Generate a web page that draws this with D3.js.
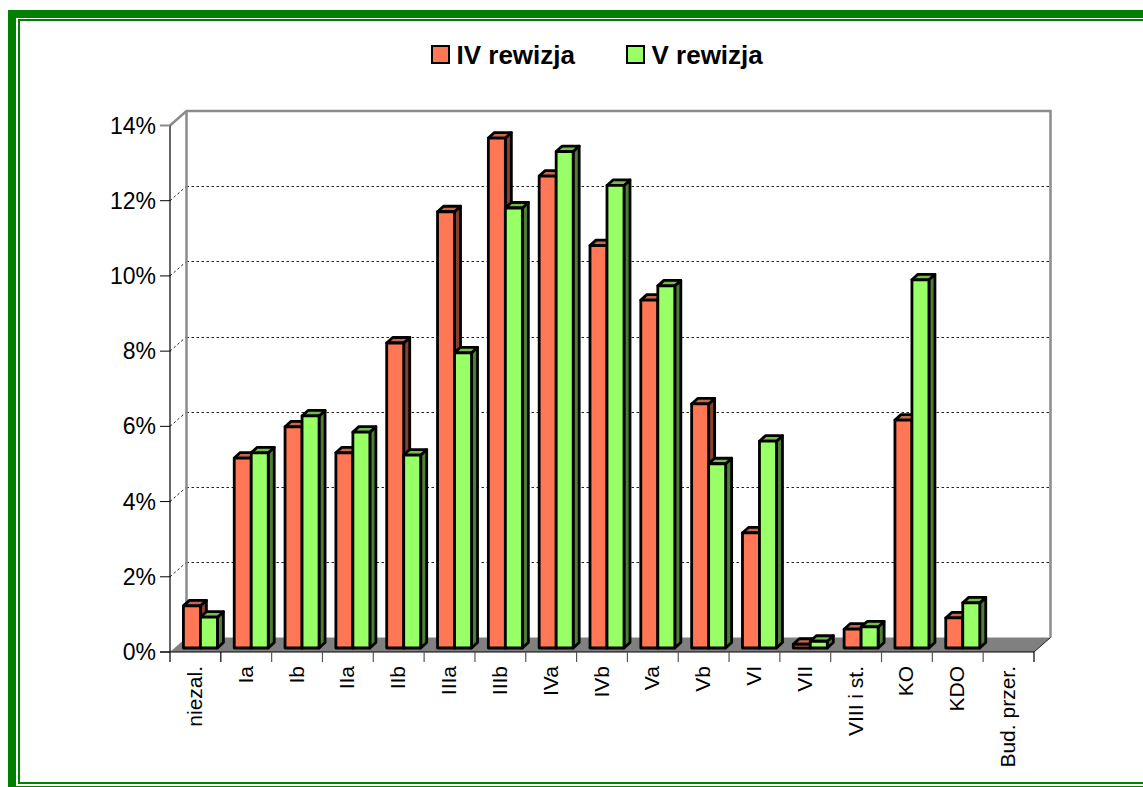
<!DOCTYPE html>
<html><head><meta charset="utf-8">
<script src="https://cdnjs.cloudflare.com/ajax/libs/d3/7.8.5/d3.min.js"></script>
<style>html,body{margin:0;padding:0;background:#fff;overflow:hidden}svg{display:block}text{font-family:"Liberation Sans",Arial,sans-serif;fill:#000}</style>
</head><body><svg id="c" width="1143" height="787"></svg>
<script>
const categories=["niezal.","Ia","Ib","IIa","IIb","IIIa","IIIb","IVa","IVb","Va","Vb","VI","VII","VIII i st.","KO","KDO","Bud. przer."];
const seriesNames=["IV rewizja","V rewizja"];
const rewizjaIV=[1.12,5.05,5.88,5.19,8.11,11.6,13.56,12.55,10.7,9.25,6.49,3.06,0.1,0.5,6.06,0.8,0];
const rewizjaV=[0.82,5.19,6.17,5.74,5.13,7.85,11.7,13.2,12.3,9.63,4.9,5.5,0.18,0.56,9.79,1.2,0];
const yTicks=[0,2,4,6,8,10,12,14];
const colors=[{f:"#ff7755",t:"#c4694d",s:"#87402c"},{f:"#99ff66",t:"#74bb50",s:"#4f7f35"}];

const svg=d3.select("#c");
// frame
svg.append("rect").attr("x",12).attr("y",14).attr("width",1140).attr("height",790).attr("fill","none").attr("stroke","#008000").attr("stroke-width",8);
svg.append("rect").attr("x",19).attr("y",20).attr("width",1140).attr("height",763).attr("fill","none").attr("stroke","#008000").attr("stroke-width",2);
svg.append("rect").attr("x",16).attr("y",786).attr("width",1127).attr("height",1).attr("fill","#008000");

const x=d3.scaleBand().domain(categories).range([170,1034]);
const y=d3.scaleLinear().domain([0,14]).range([652,125.5]);
const dx=16.5,dy=-14.5;
const g=svg.append("g");

// floor
g.append("path").attr("d",d3.line()([[170,652],[170+dx,652+dy],[1034+dx,652+dy],[1034,652]])+"Z").attr("fill","#808080");
// gridlines
const gy=yTicks.filter(d=>d>0&&d<14);
g.selectAll(".gb").data(gy).join("line").attr("x1",170+dx).attr("x2",1034+dx).attr("y1",d=>Math.round(y(d)+dy)+0.5).attr("y2",d=>Math.round(y(d)+dy)+0.5).attr("stroke","#222").attr("stroke-width",1).attr("stroke-dasharray","2.5 2.5");
g.selectAll(".gs").data(gy).join("line").attr("x1",170).attr("x2",170+dx).attr("y1",d=>y(d)).attr("y2",d=>y(d)+dy).attr("stroke","#222").attr("stroke-width",1).attr("stroke-dasharray","2.5 2.5");
// back wall edges
const wall="#8c8c8c";
g.append("path").attr("d",d3.line()([[170,y(14)],[170+dx,y(14)+dy],[1034+dx,y(14)+dy],[1034+dx,652+dy]])).attr("fill","none").attr("stroke",wall).attr("stroke-width",2.5);
g.append("line").attr("x1",170+dx).attr("x2",170+dx).attr("y1",y(14)+dy).attr("y2",652+dy).attr("stroke",wall).attr("stroke-width",2.5);
// front axes
g.append("line").attr("x1",170).attr("x2",170).attr("y1",y(14)).attr("y2",652).attr("stroke","#000").attr("stroke-width",1.2);
g.append("line").attr("x1",160).attr("x2",1034).attr("y1",652).attr("y2",652).attr("stroke","#000").attr("stroke-width",1.2);
g.append("line").attr("x1",1034).attr("x2",1034+dx).attr("y1",652).attr("y2",652+dy).attr("stroke","#222").attr("stroke-width",1);
g.append("path").attr("d",d3.line()([[160,y(14)],[170,y(14)]])).attr("stroke",wall).attr("stroke-width",2);
// y ticks + labels
g.selectAll(".yt").data(yTicks.slice(0,-1)).join("line").attr("x1",160).attr("x2",170).attr("y1",d=>y(d)).attr("y2",d=>y(d)).attr("stroke","#000");
g.selectAll(".yl").data(yTicks).join("text").attr("x",156).attr("y",d=>y(d)+8).attr("text-anchor","end").attr("font-size",23).text(d=>d+"%");
// x ticks
const xEdges=categories.map(c=>x(c)).concat([1034]);
g.selectAll(".xt").data(xEdges).join("line").attr("x1",d=>d).attr("x2",d=>d).attr("y1",652).attr("y2",662).attr("stroke",(d,i)=>(i>=2&&i<17)?"#555":"#000").attr("stroke-width",1.2);
// x labels
g.selectAll(".xl").data(categories).join("text").attr("text-anchor","end").attr("font-size",21).attr("transform",c=>`translate(${x(c)+x.bandwidth()/2+6.5},666) rotate(-90)`).text(c=>c);

// bars
const barW=17,sx=6,sy=-5.5,off=10,base=y(0)-4,ppv=y(0)-y(1);
function bar(sel,cx,v,col){
  const top=base-v*ppv;
  const st={stroke:"#000","stroke-width":2.8,"stroke-linejoin":"round"};
  const line=d3.line();
  const add=(pts,fill)=>{const p=sel.append("path").attr("d",line(pts)+"Z").attr("fill",fill);Object.entries(st).forEach(([k,w])=>p.attr(k,w));};
  add([[cx+barW,base],[cx+barW+sx,base+sy],[cx+barW+sx,top+sy],[cx+barW,top]],col.s);
  add([[cx,top],[cx+sx,top+sy],[cx+barW+sx,top+sy],[cx+barW,top]],col.t);
  add([[cx,base],[cx,top],[cx+barW,top],[cx+barW,base]],col.f);
}
const bars=g.append("g");
categories.forEach((c,i)=>{
  const left=x(c)+(x.bandwidth()-2*barW-off)/2+off;
  [rewizjaIV,rewizjaV].forEach((s,k)=>{
    if(s[i]>0) bar(bars.append("g"),left+k*barW,s[i],colors[k]);
  });
});

// legend
const lx=[432,627];
seriesNames.forEach((n,k)=>{
  svg.append("rect").attr("x",lx[k]).attr("y",46).attr("width",17).attr("height",17).attr("fill",colors[k].f).attr("stroke","#000").attr("stroke-width",2);
  svg.append("text").attr("x",lx[k]+24.5).attr("y",64).attr("font-size",26).attr("font-weight","bold").text(n);
});
</script></body></html>
